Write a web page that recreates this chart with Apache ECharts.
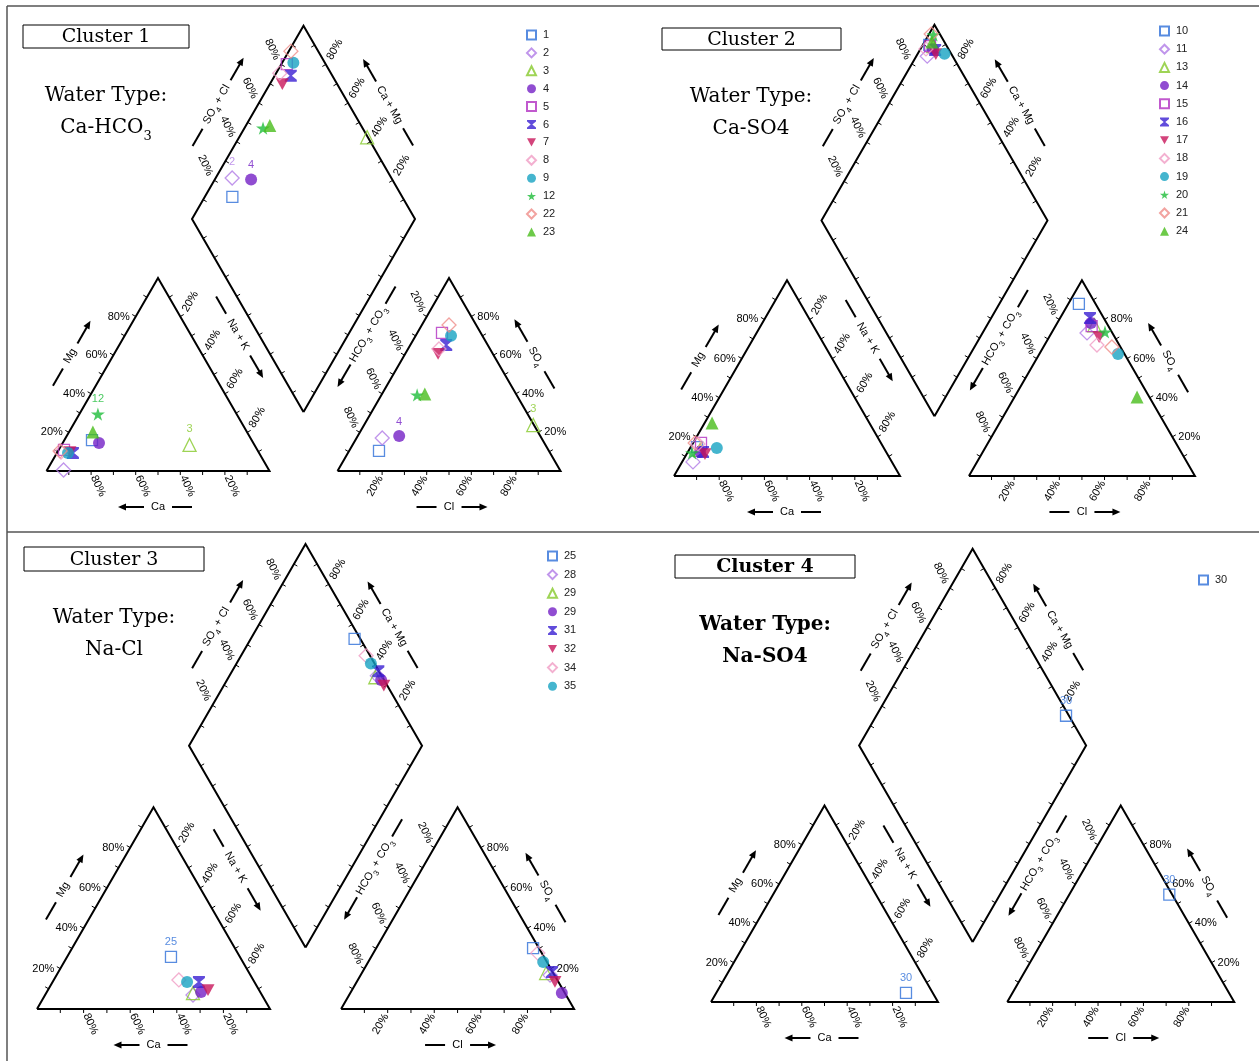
<!DOCTYPE html>
<html>
<head>
<meta charset="utf-8">
<script src="https://cdn.jsdelivr.net/npm/echarts@6/dist/echarts.min.js"></script>
<style>
  html, body { margin: 0; background: #fff; }
  #chart { width: 1259px; height: 1061px; }
</style>
</head>
<body>
<div id="chart"></div>
<script>
// ---- data: ionic percentages ----
// Cluster 1
const c1Ids  = ['1', '2', '3', '4', '5', '6', '7', '8', '9', '12', '22', '23'];
const c1Ca   = [71.6, 92.1, 29.1, 69.2, 86.7, 83.5, 84.6, 88.6, 85.7, 62.2, 88.7, 69.1];
const c1Mg   = [16.0, 0.5, 13.5, 14.5, 10.9, 9.3, 9.8, 9.8, 9.3, 29.5, 10.4, 20.2];
const c1NaK  = [12.4, 7.4, 57.4, 16.3, 2.4, 7.2, 5.6, 1.6, 5.0, 8.3, 0.9, 10.7];
const c1HCO3 = [76.2, 71.4, 0.3, 63.3, 17.4, 18.6, 24.6, 22.9, 14.1, 44.6, 12.2, 40.9];
const c1SO4  = [10.4, 17.1, 23.8, 18.1, 71.5, 65.3, 60.6, 63.2, 70.0, 39.4, 75.6, 39.9];
const c1Cl   = [13.4, 11.5, 75.9, 18.6, 11.1, 16.1, 14.8, 13.9, 15.9, 16.0, 12.2, 19.2];
// Cluster 2
const c2Ids  = ['10', '11', '13', '14', '15', '16', '17', '18', '19', '20', '21', '24'];
const c2Ca   = [82.4, 88.0, 81.8, 82.3, 79.6, 81.0, 80.7, 81.2, 73.9, 86.1, 82.2, 69.6];
const c2Mg   = [14.8, 7.2, 13.3, 12.3, 16.9, 12.3, 11.2, 16.4, 14.3, 11.8, 16.9, 27.1];
const c2NaK  = [2.8, 4.8, 4.9, 5.4, 3.5, 6.7, 8.1, 2.4, 11.8, 2.1, 0.9, 3.3];
const c2HCO3 = [7.4, 11.2, 6.0, 6.9, 7.4, 6.1, 6.9, 9.9, 2.9, 3.0, 3.8, 5.4];
const c2SO4  = [87.9, 73.1, 77.0, 78.2, 76.6, 80.7, 71.0, 66.9, 62.3, 73.6, 65.9, 40.4];
const c2Cl   = [4.7, 15.7, 17.0, 14.9, 16.0, 13.2, 22.1, 23.2, 34.8, 23.4, 30.3, 54.2];
// Cluster 3
const c3Ids  = ['25', '28', '29', '29', '31', '32', '34', '35'];
const c3Ca   = [29.6, 29.6, 29.1, 25.4, 23.8, 21.9, 31.9, 28.9];
const c3Mg   = [25.8, 6.9, 7.9, 8.4, 13.4, 9.4, 14.4, 13.4];
const c3NaK  = [44.6, 63.5, 63.0, 66.2, 62.8, 68.7, 53.7, 57.7];
const c3HCO3 = [2.5, 1.9, 3.1, 1.3, 0.3, 1.5, 1.7, 1.6];
const c3SO4  = [30.2, 16.8, 17.8, 7.9, 18.3, 13.4, 27.7, 23.3];
const c3Cl   = [67.3, 81.3, 79.1, 90.8, 81.4, 85.1, 70.6, 75.1];
// Cluster 4
const c4Ids  = ['30'];
const c4Ca   = [11.8];
const c4Mg   = [4.6];
const c4NaK  = [83.6];
const c4HCO3 = [1.3];
const c4SO4  = [54.6];
const c4Cl   = [44.1];

// marker used by each sample (index into markers)
const c1Mk = [0, 1, 2, 3, 4, 5, 6, 7, 8, 9, 10, 11];
const c2Mk = [0, 1, 2, 3, 4, 5, 6, 7, 8, 9, 10, 11];
const c3Mk = [0, 1, 2, 3, 5, 6, 7, 8];
const c4Mk = [0];

// samples numbered on the plot (cation / anion / diamond)
const c1Tags = { cat: ['12', '3'], ani: ['4', '3'], dia: ['2', '4'] };
const c2Tags = { cat: [], ani: [], dia: [] };
const c3Tags = { cat: ['25'], ani: [], dia: [] };
const c4Tags = { cat: ['30'], ani: ['30'], dia: ['30'] };

const tickVals = [10, 20, 30, 40, 50, 60, 70, 80, 90];
const labelVals = [20, 40, 60, 80];

// ---- piper geometry (unit side) ----
const H = Math.sqrt(3) / 2;
const G = 0.305;

function catXY(ca, mg, nak) {
  const s = ca + mg + nak;
  return [nak / s + mg / s / 2, mg / s * H];
}
function aniXY(hco3, so4, cl) {
  const s = hco3 + so4 + cl;
  return [1 + G + cl / s + so4 / s / 2, so4 / s * H];
}
function diaXY(a, c) {
  const t = 1 + G + c - a;
  return [a + t / 2, t * H];
}

const A = [0, 0], B = [1, 0], C = [0.5, H];
const D = [1 + G, 0], E = [2 + G, 0], F = [1.5 + G, H];
const Q = [1 + G / 2, G * H], L = [0.5 + G / 2, (1 + G) * H];
const T = [1 + G / 2, (2 + G) * H], R = [1.5 + G / 2, (1 + G) * H];
const catMid = [0.5, H / 3], aniMid = [1.5 + G, H / 3], diaMid = [1 + G / 2, (1 + G) * H];

const STAR = 'path://M50,0 L61,35 L98,35 L68,57 L79,91 L50,70 L21,91 L32,57 L2,35 L39,35 Z';
const HOURGLASS = 'path://M0,0 L10,0 L10,1.6 L5.9,5 L10,8.4 L10,10 L0,10 L0,8.4 L4.1,5 L0,1.6 Z';
const DOWNTRI = 'path://M0,0 L10,0 L5,9 Z';

const markers = [
  { symbol: 'rect', color: '#2e6fd8', hollow: true, size: 11 },
  { symbol: 'diamond', color: '#b07ae6', hollow: true, size: 14 },
  { symbol: 'triangle', color: '#86c92a', hollow: true, size: 13 },
  { symbol: 'circle', color: '#7420c6', size: 12 },
  { symbol: 'rect', color: '#b22fc2', hollow: true, size: 11 },
  { symbol: HOURGLASS, color: '#3a1fd2', size: 12 },
  { symbol: DOWNTRI, color: '#c8155a', size: 13 },
  { symbol: 'diamond', color: '#f09cc4', hollow: true, size: 14 },
  { symbol: 'circle', color: '#16a2c2', size: 12 },
  { symbol: STAR, color: '#1ebd3a', size: 14 },
  { symbol: 'diamond', color: '#ef8c88', hollow: true, size: 14 },
  { symbol: 'triangle', color: '#48bd1c', size: 13 }
];

const clusters = [
  { ids: c1Ids, Ca: c1Ca, Mg: c1Mg, NaK: c1NaK, HCO3: c1HCO3, SO4: c1SO4, Cl: c1Cl, mk: c1Mk, tags: c1Tags },
  { ids: c2Ids, Ca: c2Ca, Mg: c2Mg, NaK: c2NaK, HCO3: c2HCO3, SO4: c2SO4, Cl: c2Cl, mk: c2Mk, tags: c2Tags },
  { ids: c3Ids, Ca: c3Ca, Mg: c3Mg, NaK: c3NaK, HCO3: c3HCO3, SO4: c3SO4, Cl: c3Cl, mk: c3Mk, tags: c3Tags },
  { ids: c4Ids, Ca: c4Ca, Mg: c4Mg, NaK: c4NaK, HCO3: c4HCO3, SO4: c4SO4, Cl: c4Cl, mk: c4Mk, tags: c4Tags }
];

// ---- layout of each panel (pixel origin of the cation triangle, side length) ----
const panels = [
  { ox: 46.5, oy: 471, side: 223, legend: [526, 29.5, 6.9] },
  { ox: 674, oy: 476, side: 226, legend: [1159, 25.5, 7.2] },
  { ox: 37, oy: 1009, side: 233, legend: [547, 550.5, 7.6] },
  { ox: 711, oy: 1002, side: 227, legend: [1198, 574.5, 7] }
];
const X0 = -0.1, X1 = 2.4, Y0 = -0.2, Y1 = 2.05;

const SANS = '"Liberation Sans", Arial, sans-serif';
const SERIF = '"DejaVu Serif", serif';

// ---- frame drawing helpers ----
function unit(a, b) {
  const dx = b[0] - a[0], dy = b[1] - a[1], l = Math.hypot(dx, dy);
  return [dx / l, dy / l];
}
function normalAway(a, b, r) {
  const u = unit(a, b);
  let n = [-u[1], u[0]];
  const m = [(a[0] + b[0]) / 2, (a[1] + b[1]) / 2];
  if (n[0] * (r[0] - m[0]) + n[1] * (r[1] - m[1]) > 0) n = [-n[0], -n[1]];
  return n;
}
function lerpPx(a, b, t) {
  return [a[0] + (b[0] - a[0]) * t, a[1] + (b[1] - a[1]) * t];
}

// edges carrying ticks: from, to, reference point, ticks outward(true) / inward(false)
const tickEdges = [
  [A, B, catMid, true], [A, C, catMid, true], [C, B, catMid, true],
  [D, E, aniMid, true], [D, F, aniMid, true], [F, E, aniMid, true],
  [Q, R, diaMid, false], [R, T, diaMid, false], [T, L, diaMid, false], [L, Q, diaMid, false]
];
// percentage labels: from (0%), to (100%), dx, dy, rotation deg, align
const pctLabels = [
  [A, C, -6, 0, 0, 'right'],      // Mg
  [B, A, 7, 15, -65, 'center'],   // Ca
  [C, B, 10, -15, 60, 'center'],  // Na + K
  [F, D, -9, -15, -65, 'center'], // HCO3 + CO3
  [D, E, -7, 15, 60, 'center'],   // Cl
  [E, F, 6, 0, 0, 'left'],        // SO4
  [L, T, -9, -15, -65, 'center'], // SO4 + Cl
  [R, T, 9, -15, 60, 'center']    // Ca + Mg
];
// axis titles: from, to, position along, offset, ref, rich text, width, arrow at 'to' end
const titles = [
  [A, C, 0.5, 37, catMid, '{n|Mg}', 15, true],
  [A, B, 0.5, 36, catMid, '{n|Ca}', 14, false],
  [C, B, 0.4, 41, catMid, '{n|Na + K}', 34, true],
  [D, F, 0.6, 42, aniMid, '{n|HCO}{s|3}{n| + CO}{s|3}', 56, false],
  [D, E, 0.5, 36, aniMid, '{n|Cl}', 11, true],
  [E, F, 0.5, 36, aniMid, '{n|SO}{s|4}', 20, true],
  [L, T, 0.5, 36, diaMid, '{n|SO}{s|4}{n| + Cl}', 42, true],
  [R, T, 0.5, 35, diaMid, '{n|Ca + Mg}', 40, true]
];
const rich = {
  n: { fontSize: 11, fontFamily: SANS, lineHeight: 18, verticalAlign: 'middle', fill: '#000', color: '#000' },
  s: { fontSize: 8, fontFamily: SANS, lineHeight: 18, verticalAlign: 'bottom', fill: '#000', color: '#000' }
};

function renderFrame(params, api) {
  const px = p => api.coord(p);
  const ch = [];
  const poly = pts => ({
    type: 'polyline',
    shape: { points: pts.map(px) },
    style: { stroke: '#000', lineWidth: 2, fill: null, lineJoin: 'miter' }
  });
  ch.push(poly([A, B, C, A]), poly([D, E, F, D]), poly([Q, R, T, L, Q]));

  tickEdges.forEach(([p0, p1, ref, out]) => {
    const a = px(p0), b = px(p1), r = px(ref);
    let n = normalAway(a, b, r);
    if (!out) n = [-n[0], -n[1]];
    tickVals.forEach(v => {
      const q = lerpPx(a, b, v / 100);
      ch.push({
        type: 'line',
        shape: { x1: q[0], y1: q[1], x2: q[0] + n[0] * 4, y2: q[1] + n[1] * 4 },
        style: { stroke: '#000', lineWidth: 1 }
      });
    });
  });

  pctLabels.forEach(([p0, p1, dx, dy, rot, align]) => {
    const a = px(p0), b = px(p1);
    labelVals.forEach(v => {
      const q = lerpPx(a, b, v / 100);
      ch.push({
        type: 'text',
        x: q[0] + dx, y: q[1] + dy,
        rotation: rot * Math.PI / 180,
        style: {
          text: v + '%', fill: '#000', font: '11px ' + SANS,
          align: align, verticalAlign: 'middle'
        }
      });
    });
  });

  titles.forEach(([p0, p1, f, off, ref, txt, tw, atEnd]) => {
    const a = px(p0), b = px(p1), r = px(ref);
    const u = unit(a, b);
    const n = normalAway(a, b, r);
    const m = lerpPx(a, b, f);
    const c = [m[0] + n[0] * off, m[1] + n[1] * off];
    let ang = Math.atan2(-(b[1] - a[1]), b[0] - a[0]);
    if (ang > Math.PI / 2) ang -= Math.PI;
    if (ang <= -Math.PI / 2) ang += Math.PI;
    ch.push({
      type: 'text', x: c[0], y: c[1], rotation: ang,
      style: { text: txt, rich: rich, align: 'center', verticalAlign: 'middle', font: '11px ' + SANS, fill: '#000' }
    });
    const w = atEnd ? u : [-u[0], -u[1]];
    const gap = tw / 2 + 7;
    const arrowLen = 26, dashLen = 20;
    const s0 = [c[0] + w[0] * gap, c[1] + w[1] * gap];
    const tip = [c[0] + w[0] * (gap + arrowLen), c[1] + w[1] * (gap + arrowLen)];
    const d0 = [c[0] - w[0] * gap, c[1] - w[1] * gap];
    const d1 = [c[0] - w[0] * (gap + dashLen), c[1] - w[1] * (gap + dashLen)];
    const pw = [-w[1], w[0]];
    ch.push({ type: 'line', shape: { x1: s0[0], y1: s0[1], x2: tip[0] - w[0] * 5, y2: tip[1] - w[1] * 5 }, style: { stroke: '#000', lineWidth: 2 } });
    ch.push({ type: 'line', shape: { x1: d0[0], y1: d0[1], x2: d1[0], y2: d1[1] }, style: { stroke: '#000', lineWidth: 2 } });
    ch.push({
      type: 'polygon',
      shape: { points: [
        tip,
        [tip[0] - w[0] * 8 + pw[0] * 3.5, tip[1] - w[1] * 8 + pw[1] * 3.5],
        [tip[0] - w[0] * 8 - pw[0] * 3.5, tip[1] - w[1] * 8 - pw[1] * 3.5]
      ] },
      style: { fill: '#000' }
    });
  });
  return { type: 'group', children: ch };
}

// ---- build options ----
const grids = [], xAxes = [], yAxes = [], legends = [], series = [];
const labelOf = {};

panels.forEach((pn, p) => {
  grids.push({
    left: pn.ox + X0 * pn.side,
    top: pn.oy - Y1 * pn.side,
    width: (X1 - X0) * pn.side,
    height: (Y1 - Y0) * pn.side
  });
  xAxes.push({ type: 'value', gridIndex: p, min: X0, max: X1, show: false });
  yAxes.push({ type: 'value', gridIndex: p, min: Y0, max: Y1, show: false });

  series.push({
    type: 'custom', xAxisIndex: p, yAxisIndex: p, silent: true, z: 1,
    data: [[0, 0]], renderItem: renderFrame, animation: false
  });

  const cl = clusters[p];
  const names = [];
  cl.ids.forEach((id, i) => {
    const m = markers[cl.mk[i]];
    const name = 'c' + (p + 1) + '_' + i;
    labelOf[name] = id;
    names.push(name);
    const sc = cl.Ca[i] + cl.Mg[i] + cl.NaK[i];
    const sa = cl.HCO3[i] + cl.SO4[i] + cl.Cl[i];
    const cat = catXY(cl.Ca[i], cl.Mg[i], cl.NaK[i]);
    const ani = aniXY(cl.HCO3[i], cl.SO4[i], cl.Cl[i]);
    const dia = diaXY(cl.NaK[i] / sc, (cl.SO4[i] + cl.Cl[i]) / sa);
    const tag = k => ({ show: cl.tags[k].indexOf(id) >= 0 });
    series.push({
      type: 'scatter', name: name, xAxisIndex: p, yAxisIndex: p,
      symbol: m.symbol, symbolSize: m.size, symbolKeepAspect: true,
      itemStyle: m.hollow
        ? { color: 'rgba(255,255,255,0)', borderColor: m.color, borderWidth: 1.3 }
        : { color: m.color },
      label: {
        show: false, position: 'top', distance: 3, formatter: id,
        color: m.color, fontSize: 11, fontFamily: SANS
      },
      clip: false, silent: true, animation: false, z: 3,
      data: [
        { value: cat, label: tag('cat') },
        { value: ani, label: tag('ani') },
        { value: dia, label: tag('dia') }
      ]
    });
  });

  legends.push({
    orient: 'vertical', left: pn.legend[0], top: pn.legend[1], padding: 0,
    itemWidth: 9, itemHeight: 9, itemGap: pn.legend[2],
    selectedMode: false, data: names,
    formatter: n => labelOf[n],
    textStyle: { fontSize: 11, color: '#222', fontFamily: SANS, padding: [0, 0, 0, 2] }
  });
});

// ---- panel captions ----
const captions = [
  { box: [23, 25, 166, 23], title: 'Cluster 1', cx: 106, wy: 96, type: '{a|Ca-HCO}{b|3}', bold: false },
  { box: [662, 28, 179, 22], title: 'Cluster 2', cx: 751, wy: 97, type: '{a|Ca-SO4}', bold: false },
  { box: [24, 547, 180, 24], title: 'Cluster 3', cx: 114, wy: 618, type: '{a|Na-Cl}', bold: false },
  { box: [675, 555, 180, 23], title: 'Cluster 4', cx: 765, wy: 625, type: '{a|Na-SO4}', bold: true }
];
const graphic = [
  { type: 'line', shape: { x1: 7, y1: 6, x2: 1259, y2: 6 }, style: { stroke: '#555', lineWidth: 1.5 } },
  { type: 'line', shape: { x1: 7, y1: 6, x2: 7, y2: 1061 }, style: { stroke: '#555', lineWidth: 1.5 } },
  { type: 'line', shape: { x1: 7, y1: 532, x2: 1259, y2: 532 }, style: { stroke: '#555', lineWidth: 1.5 } }
];
captions.forEach(cp => {
  const wt = cp.bold ? 'bold ' : '';
  graphic.push({
    type: 'rect',
    shape: { x: cp.box[0], y: cp.box[1], width: cp.box[2], height: cp.box[3] },
    style: { fill: 'none', stroke: '#000', lineWidth: 1 }
  });
  graphic.push({
    type: 'text', x: cp.box[0] + cp.box[2] / 2, y: cp.box[1] + cp.box[3] / 2 + 1,
    style: {
      text: cp.title, font: wt + '19px ' + SERIF, fill: '#000',
      align: 'center', verticalAlign: 'middle', textAlign: 'center', textVerticalAlign: 'middle'
    }
  });
  graphic.push({
    type: 'text', x: cp.cx, y: cp.wy,
    style: {
      text: 'Water Type:', font: wt + '20px ' + SERIF, fill: '#000',
      align: 'center', verticalAlign: 'middle', textAlign: 'center', textVerticalAlign: 'middle'
    }
  });
  graphic.push({
    type: 'text', x: cp.cx, y: cp.wy + 32,
    style: {
      text: cp.type, fill: '#000',
      align: 'center', verticalAlign: 'middle', textAlign: 'center', textVerticalAlign: 'middle',
      rich: {
        a: { fontSize: 20, fontFamily: SERIF, fontWeight: cp.bold ? 'bold' : 'normal', lineHeight: 30, verticalAlign: 'middle', fill: '#000' },
        b: { fontSize: 13, fontFamily: SERIF, lineHeight: 30, verticalAlign: 'bottom', fill: '#000' }
      }
    }
  });
});

const chart = echarts.init(document.getElementById('chart'));
chart.setOption({
  backgroundColor: '#fff',
  animation: false,
  grid: grids,
  xAxis: xAxes,
  yAxis: yAxes,
  legend: legends,
  graphic: graphic,
  series: series
});
</script>
</body>
</html>
